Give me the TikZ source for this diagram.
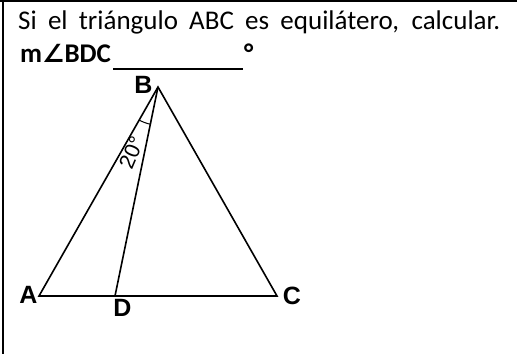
\documentclass[tikz,border=0pt]{standalone}
\usepackage{fontspec}
\setmainfont{Carlito}
\newfontfamily\arialf{Liberation Sans}
\newfontfamily\djv{DejaVu Sans}
\usetikzlibrary{angles}
\begin{document}
\begin{tikzpicture}[x=1pt,y=1pt,
  frameline/.style={line width=1.4pt},
  triline/.style={line width=1.6pt, line join=miter},
  vlabel/.style={inner sep=0pt, font=\arialf\bfseries\fontsize{25}{25}\selectfont},
  txt/.style={inner sep=0pt, anchor=base west, font=\fontsize{27}{31}\selectfont}]
\useasboundingbox (0,0) rectangle (517,-354);
% frame of the cell
\draw[frameline] (0,-1) -- (517,-1);
\draw[frameline] (3,0) -- (3,-354);
% texts
\node[txt] (t1) at (18,-29.3) {\makebox[482pt][s]{Si el triángulo ABC es equilátero, calcular.}};
\node[txt] (t2) at (20,-62.7) {\bfseries\makebox[93pt][l]{m{\djv\bfseries\fontsize{25}{28}\selectfont∠}BDC}\rule[-6.8pt]{130pt}{2pt}\hspace{1pt}°};
% triangle
\coordinate (A) at (39,-296);
\coordinate (B) at (158,-87);
\coordinate (C) at (277,-296);
\coordinate (D) at (115,-296);
\draw[triline] (A) -- (B) -- (C) -- cycle;
\draw[triline] (B) -- (D);
\pic[draw, line width=1pt, angle radius=38pt] {angle=A--B--D};
% labels
\node[vlabel] (lA) at (28.5,-294.5) {A};
\node[vlabel] (lB) at (143.5,-84.5) {B};
\node[vlabel] (lC) at (292,-295.5) {C};
\node[vlabel] (lD) at (122.5,-307.5) {D};
\node[inner sep=0pt, rotate=67, font=\arialf\fontsize{21.5}{21.5}\selectfont] (ang) at (131.5,-153) {20°};
\end{tikzpicture}
\end{document}
